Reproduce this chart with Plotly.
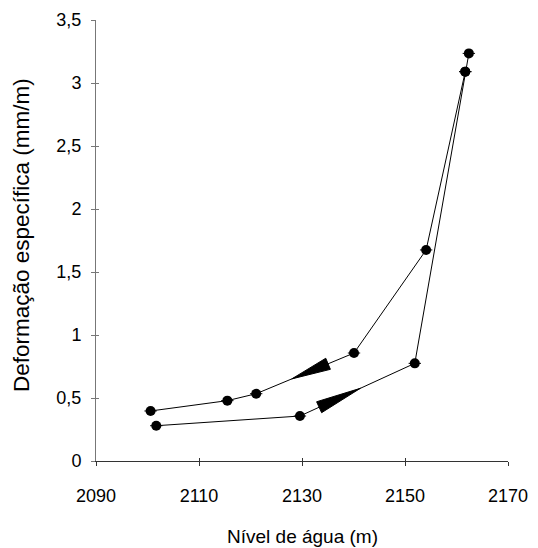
import plotly.graph_objects as go
import numpy as np

# ---- data ----
nivel_subida = [2101.7, 2129.6, 2151.9, 2161.7, 2162.4]
deform_subida = [0.28, 0.357, 0.775, 3.09, 3.235]
nivel_descida = [2161.7, 2154.1, 2140.1, 2121.1, 2115.5, 2100.6]
deform_descida = [3.09, 1.675, 0.857, 0.534, 0.479, 0.397]
erro_nivel = 1.2

x_ticks = [2090, 2110, 2130, 2150, 2170]
y_ticks = [0, 0.5, 1, 1.5, 2, 2.5, 3, 3.5]
y_tick_text = ["0", "0,5", "1", "1,5", "2", "2,5", "3", "3,5"]
x_range = [2090, 2170]
y_range = [0, 3.5]
x_title = "Nível de água (m)"
y_title = "Deformação específica (mm/m)"

# ---- layout constants (page has an 8px body margin) ----
W, H = 530, 540
ML, MR, MT, MB = 88, 30, 12, 87
plot_w = W - ML - MR
plot_h = H - MT - MB
sx = plot_w / (x_range[1] - x_range[0])
sy = plot_h / (y_range[1] - y_range[0])


def arrow_triangle(p0, p1, t_base, t_tip, half_w):
    """Triangle along segment p0->p1 (data coords), computed in pixel space."""
    a = np.array([p0[0] * sx, p0[1] * sy])
    b = np.array([p1[0] * sx, p1[1] * sy])
    base = a + (b - a) * t_base
    tip = a + (b - a) * t_tip
    d = (b - a) / np.linalg.norm(b - a)
    n = np.array([-d[1], d[0]])
    c1 = base + n * half_w
    c2 = base - n * half_w
    pts = [tip, c1, c2, tip]
    return [p[0] / sx for p in pts], [p[1] / sy for p in pts]


fig = go.Figure()

common_marker = dict(color="black", size=10, symbol="circle")
common_err = dict(type="constant", value=erro_nivel, color="black", thickness=1, width=0)

fig.add_trace(go.Scatter(x=nivel_subida, y=deform_subida, mode="lines+markers",
                         line=dict(color="black", width=1), marker=common_marker,
                         error_x=common_err, showlegend=False, hoverinfo="skip"))
fig.add_trace(go.Scatter(x=nivel_descida, y=deform_descida, mode="lines+markers",
                         line=dict(color="black", width=1), marker=common_marker,
                         error_x=common_err, showlegend=False, hoverinfo="skip"))

# direction arrows (derived from segment endpoints)
ax_, ay_ = arrow_triangle((nivel_descida[2], deform_descida[2]),
                          (nivel_descida[3], deform_descida[3]), 0.265, 0.636, 6)
fig.add_trace(go.Scatter(x=ax_, y=ay_, mode="lines", fill="toself", fillcolor="black",
                         line=dict(color="black", width=1), showlegend=False, hoverinfo="skip"))
bx_, by_ = arrow_triangle((nivel_subida[1], deform_subida[1]),
                          (nivel_subida[2], deform_subida[2]), 0.167, 0.526, 6)
fig.add_trace(go.Scatter(x=bx_, y=by_, mode="lines", fill="toself", fillcolor="black",
                         line=dict(color="black", width=1), showlegend=False, hoverinfo="skip"))

font_family = "Liberation Sans, Arial, sans-serif"

fig.update_layout(
    width=W, height=H,
    margin=dict(l=ML, r=MR, t=MT, b=MB),
    paper_bgcolor="white", plot_bgcolor="white",
    font=dict(family=font_family, size=18, color="black"),
    xaxis=dict(range=x_range, tickvals=x_ticks, ticks="outside", ticklen=4,
               tickcolor="#333", showline=True, linecolor="#333", linewidth=1,
               showgrid=False, zeroline=False, ticklabelstandoff=14, automargin=False),
    yaxis=dict(range=y_range, tickvals=y_ticks, ticktext=y_tick_text, ticks="outside",
               ticklen=4, tickcolor="#777", showline=True, linecolor="#777", linewidth=1,
               showgrid=False, zeroline=False, ticklabelstandoff=6, automargin=False),
    xaxis2=dict(range=x_range, tickvals=x_ticks, ticks="inside", ticklen=3, tickcolor="#333",
                showticklabels=False, showgrid=False, zeroline=False, overlaying="x",
                side="bottom", anchor="y", automargin=False),
    yaxis2=dict(range=y_range, tickvals=y_ticks, ticks="inside", ticklen=3, tickcolor="#777",
                showticklabels=False, showgrid=False, zeroline=False, overlaying="y",
                side="left", anchor="x", automargin=False),
    annotations=[
        dict(text=x_title, xref="paper", yref="paper", x=0.5,
             y=-(528 - (MT + plot_h)) / plot_h,
             xanchor="center", yanchor="middle", showarrow=False, font=dict(size=19)),
        dict(text=y_title, xref="paper", yref="paper", x=(14 - ML) / plot_w,
             y=(MT + plot_h - 227) / plot_h,
             xanchor="center", yanchor="middle", textangle=-90, showarrow=False,
             font=dict(size=22.5)),
    ],
)
# dummy trace to activate overlay axes
fig.add_trace(go.Scatter(x=[None], y=[None], xaxis="x2", yaxis="y2", showlegend=False))

fig.write_html("out.html")
